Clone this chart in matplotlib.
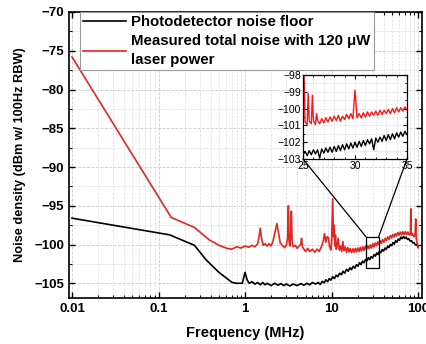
import matplotlib
matplotlib.use('Agg')
import matplotlib.pyplot as plt
from matplotlib.patches import Rectangle, ConnectionPatch
from matplotlib.ticker import LogLocator, MultipleLocator, FixedLocator

plt.rcParams['font.family'] = ['Liberation Sans', 'DejaVu Sans']

# photodetector noise floor (MHz, dBm)
pd_freq = [0.01, 0.134, 0.26, 0.356, 0.5, 0.71, 0.8, 0.93, 1.0, 1.06, 1.12, 1.2, 1.3, 1.4,
           1.5, 1.6, 1.7, 1.8, 2.0, 2.2, 2.4, 2.6, 2.8, 3.0, 3.3, 3.6, 4.0, 4.4, 4.8, 5.2,
           5.6, 6.0, 6.5,
           7.0, 7.4, 7.8, 8.2, 8.6, 9.0, 9.4, 9.8, 10.3, 10.8, 11.3, 11.8, 12.4, 13.0, 13.6,
           14.2, 14.9, 15.6, 16.3, 17.0, 17.8, 18.6, 19.4, 20.2, 21.0, 21.9, 22.8, 23.7, 24.6,
           25.6, 26.6, 27.6, 28.7, 29.8, 30.9, 32.1, 33.3, 34.5, 35.8, 37.1, 38.5, 39.9, 41.4,
           42.9, 44.5, 46.1, 47.8, 49.5, 51.3, 53.1, 55.0, 57.0, 59.0, 61.1, 63.3, 65.5, 67.8,
           70.2, 72.7, 75.3, 78.0, 80.8, 83.7, 86.7, 89.8, 93.0, 96.3, 100.0]
pd_noise = [-96.6, -98.75, -100.1, -102.0, -103.6, -104.9, -105.0, -105.0, -103.6, -104.6,
            -105.0, -104.8, -105.1, -104.9, -105.2, -104.9, -105.2, -105.0, -105.3, -105.0,
            -105.25, -105.05, -105.3, -105.1, -105.35, -105.1, -105.3, -105.05, -105.25,
            -105.0, -105.2, -104.9, -105.1,
            -104.9, -105.15, -104.75, -104.95, -104.55, -104.8, -104.4, -104.6, -104.15,
            -104.4, -103.95, -104.15, -103.7, -103.9, -103.45, -103.7, -103.2, -103.45,
            -103.0, -103.25, -102.8, -103.05, -102.6, -102.8, -102.35, -102.6, -102.15,
            -102.35, -101.95, -102.1, -101.7, -101.95, -101.55, -101.75, -101.3, -101.5,
            -101.1, -101.3, -100.85, -101.05, -100.65, -100.85, -100.45, -100.65, -100.2,
            -100.4, -100.0, -100.15, -99.75, -99.95, -99.5, -99.7, -99.3, -99.45, -99.05,
            -99.25, -98.95, -99.2, -99.05, -99.35, -99.25, -99.55, -99.5, -99.8, -99.75,
            -100.05, -100.0, -100.3]

# measured total noise with 120 uW laser power
tot_freq = [0.01, 0.14, 0.26, 0.385, 0.5, 0.62, 0.7, 0.8, 0.9, 1.0, 1.1, 1.2, 1.3, 1.4, 1.45,
            1.5, 1.55, 1.62, 1.7, 1.8, 1.9, 2.0, 2.1, 2.2, 2.33, 2.45, 2.55, 2.7, 2.85, 3.0,
            3.1, 3.17, 3.23, 3.3, 3.37, 3.43, 3.5, 3.6, 3.8, 4.0, 4.2, 4.4, 4.5, 4.6, 4.8,
            5.0, 5.3, 5.6, 6.0, 6.4, 6.8, 7.2, 7.6, 8.0, 8.3, 8.6, 8.9, 9.2, 9.5, 9.8, 10.0,
            10.3, 10.5, 10.7, 10.9, 11.1, 11.3,
            11.5, 11.9, 12.3, 12.7, 13.1, 13.5, 13.9, 14.4, 14.9, 15.4, 15.9, 16.4, 17.0,
            17.6, 18.2, 18.8, 19.4, 20.1, 20.8, 21.5, 22.2, 23.0, 23.8, 24.6, 25.4, 26.3,
            27.2, 28.1, 29.0, 30.0, 31.0, 32.0, 33.1, 34.2, 35.3, 36.5, 37.7, 39.0, 40.3,
            41.7, 43.1, 44.6, 46.1, 47.7, 49.3, 51.0, 52.7, 54.5, 56.4, 58.3, 60.3, 62.4,
            64.5, 66.7, 69.0, 71.4, 73.8, 76.3, 78.9, 81.6, 82.5, 83.4, 86.2, 89.1, 92.1,
            94.0, 95.2, 97.5, 100.0]
tot_noise = [-75.8, -96.5, -97.8, -99.4, -100.1, -100.5, -100.6, -100.3, -100.45, -100.2,
             -100.35, -100.1, -100.3, -99.9, -99.0, -97.9, -99.2, -100.1, -99.9, -100.2,
             -99.9, -100.2, -99.6, -98.6, -97.3, -98.6, -99.8, -100.1, -100.4, -100.1,
             -99.2, -95.0, -99.7, -100.2, -98.6, -95.7, -99.6, -100.3, -100.1, -100.5,
             -100.2, -100.0, -99.2, -100.3, -100.6, -100.9, -100.5, -100.9, -100.6, -101.0,
             -100.6, -100.9, -100.3, -99.6, -98.6, -99.7, -99.0, -99.1, -100.3, -100.7,
             -99.8, -94.1, -99.0, -97.5, -100.2, -98.8, -100.6,
             -100.4, -99.2, -100.7, -100.2, -100.9, -99.6, -100.8, -100.3, -101.0, -100.4,
             -100.95, -100.5, -101.05, -100.55, -101.0, -100.5, -100.95, -100.45, -100.9,
             -100.35, -100.85, -100.3, -100.75, -100.2, -100.65, -100.15, -100.55, -100.05,
             -100.45, -99.9, -100.3, -99.8, -100.15, -99.65, -100.0, -99.5, -99.85, -99.35,
             -99.7, -99.2, -99.5, -99.0, -99.35, -98.85, -99.15, -98.7, -99.05, -98.6,
             -98.9, -98.45, -98.8, -98.4, -98.75, -98.35, -98.7, -98.35, -98.7, -98.4,
             -98.75, -98.5, -95.4, -98.8, -98.6, -99.0, -98.8, -96.7, -99.3, -99.8, -100.4]

# inset, 25-35 MHz
ins_red_freq = [25.0, 25.1, 25.2, 25.4, 25.5, 25.6, 25.8, 25.9, 26.0, 26.2, 26.3, 26.4, 26.6,
                26.8, 27.0, 27.2, 27.4, 27.6, 27.8, 28.0, 28.2, 28.4, 28.6, 28.8, 29.0, 29.2,
                29.4, 29.6, 29.8, 30.0, 30.2, 30.4, 30.6, 30.8, 31.0, 31.2, 31.4, 31.6, 31.8,
                32.0, 32.2, 32.4, 32.6, 32.8, 33.0, 33.2, 33.4, 33.6, 33.8, 34.0, 34.2, 34.4,
                34.6, 34.8, 35.0]
ins_red = [-100.9, -98.0, -100.8, -100.95, -99.1, -100.75, -100.9, -99.2, -100.7, -100.95,
           -100.3, -100.7, -100.9, -100.6, -100.85, -100.55, -100.8, -100.5, -100.75, -100.45,
           -100.7, -100.4, -100.75, -100.45, -100.65, -100.35, -100.6, -100.3, -100.6, -98.9,
           -100.55, -100.3, -100.55, -100.25, -100.5, -100.2, -100.45, -100.2, -100.4,
           -100.15, -100.4, -100.1, -100.35, -100.1, -100.3, -100.05, -100.3, -100.0,
           -100.25, -99.95, -100.2, -99.95, -100.15, -99.9, -100.1]
ins_blk_freq = [25.0, 25.2, 25.4, 25.6, 25.8, 26.0, 26.2, 26.4, 26.6, 26.8, 27.0, 27.2, 27.4,
                27.6, 27.8, 28.0, 28.2, 28.4, 28.6, 28.8, 29.0, 29.2, 29.4, 29.6, 29.8, 30.0,
                30.2, 30.4, 30.6, 30.8, 31.0, 31.2, 31.4, 31.6, 31.8, 32.0, 32.2, 32.4, 32.6,
                32.8, 33.0, 33.2, 33.4, 33.6, 33.8, 34.0, 34.2, 34.4, 34.6, 34.8, 35.0]
ins_blk = [-102.75, -102.55, -102.8, -102.5, -102.75, -102.45, -102.7, -102.45, -102.95,
           -102.4, -102.65, -102.35, -102.6, -102.3, -102.6, -102.25, -102.55, -102.2, -102.5,
           -102.15, -102.45, -102.1, -102.4, -102.05, -102.35, -102.0, -102.3, -101.95,
           -102.25, -101.9, -102.2, -101.85, -102.1, -101.8, -102.45, -101.75, -102.0, -101.7,
           -101.95, -101.6, -101.9, -101.55, -101.85, -101.5, -101.8, -101.45, -101.7, -101.4,
           -101.65, -101.35, -101.55]

RED = '#e3261f'

fig = plt.figure(figsize=(4.27, 3.44), dpi=100)
ax = fig.add_axes([69 / 427, 1 - 298 / 344, 353 / 427, 286 / 344])

ax.plot(pd_freq, pd_noise, color='black', lw=1.2, label='Photodetector noise floor')
ax.plot(tot_freq, tot_noise, color=RED, lw=1.2,
        label='Measured total noise with 120 \u03bcW\nlaser power')
ax.set_xscale('log')
ax.set_xlim(0.00923, 111)
ax.set_ylim(-106.9, -70)
ax.yaxis.set_major_locator(MultipleLocator(5))
ax.yaxis.set_minor_locator(MultipleLocator(2.5))
ax.xaxis.set_major_locator(FixedLocator([0.01, 0.1, 1, 10, 100]))
ax.xaxis.set_minor_locator(LogLocator(base=10, subs=range(2, 10), numticks=20))
ax.set_xticklabels(['0.01', '0.1', '1', '10', '100'])
ax.grid(True, which='major', color='#cccccc', ls='--', lw=0.6)
ax.grid(True, which='minor', color='#dddddd', ls='--', lw=0.5)
ax.tick_params(which='both', direction='in', top=True, right=True, labelsize=9.5)
ax.tick_params(which='major', length=4, width=1)
ax.tick_params(which='minor', length=2, width=0.8)
for lab in ax.get_xticklabels() + ax.get_yticklabels():
    lab.set_fontweight('bold')
for s in ax.spines.values():
    s.set_linewidth(1.2)
ax.set_xlabel('Frequency (MHz)', fontsize=10.5, fontweight='bold', labelpad=8)
ax.set_ylabel('Noise density (dBm w/ 100Hz RBW)', fontsize=9.2, fontweight='bold', labelpad=6)

leg = ax.legend(loc='upper left', bbox_to_anchor=(0.03, 1.0), fontsize=10.8, frameon=True,
                fancybox=False, edgecolor='#999999', framealpha=1, handlelength=2.9,
                borderpad=0.2, labelspacing=0.3, handletextpad=0.35, borderaxespad=0)
for t in leg.get_texts():
    t.set_fontweight('bold')
    t.set_linespacing(1.5)
leg.get_frame().set_linewidth(0.8)

# zoom box on main plot
ax.add_patch(Rectangle((25, -103), 10, 4, fill=False, ec='black', lw=0.9, zorder=5))

ins = fig.add_axes([303 / 427, 1 - 159 / 344, 104 / 427, 84 / 344])
ins.plot(ins_blk_freq, ins_blk, color='black', lw=1.0)
ins.plot(ins_red_freq, ins_red, color='#ff1414', lw=1.0)
ins.set_xlim(25, 35)
ins.set_ylim(-103, -98)
ins.xaxis.set_major_locator(MultipleLocator(5))
ins.xaxis.set_minor_locator(MultipleLocator(1))
ins.yaxis.set_major_locator(MultipleLocator(1))
ins.yaxis.set_minor_locator(MultipleLocator(0.5))
ins.grid(True, which='both', color='#dddddd', ls='--', lw=0.5)
ins.tick_params(which='both', direction='in', top=True, right=True, labelsize=7.5, pad=1.5)
ins.tick_params(which='major', length=3)
ins.tick_params(which='minor', length=1.5)
for s in ins.spines.values():
    s.set_linewidth(0.9)

for xa, xi in [(25, 25), (35, 35)]:
    con = ConnectionPatch(xyA=(xa, -99), coordsA=ax.transData,
                          xyB=(xi, -103), coordsB=ins.transData, color='black', lw=0.9)
    fig.add_artist(con)

fig.savefig('out.png', dpi=100)
